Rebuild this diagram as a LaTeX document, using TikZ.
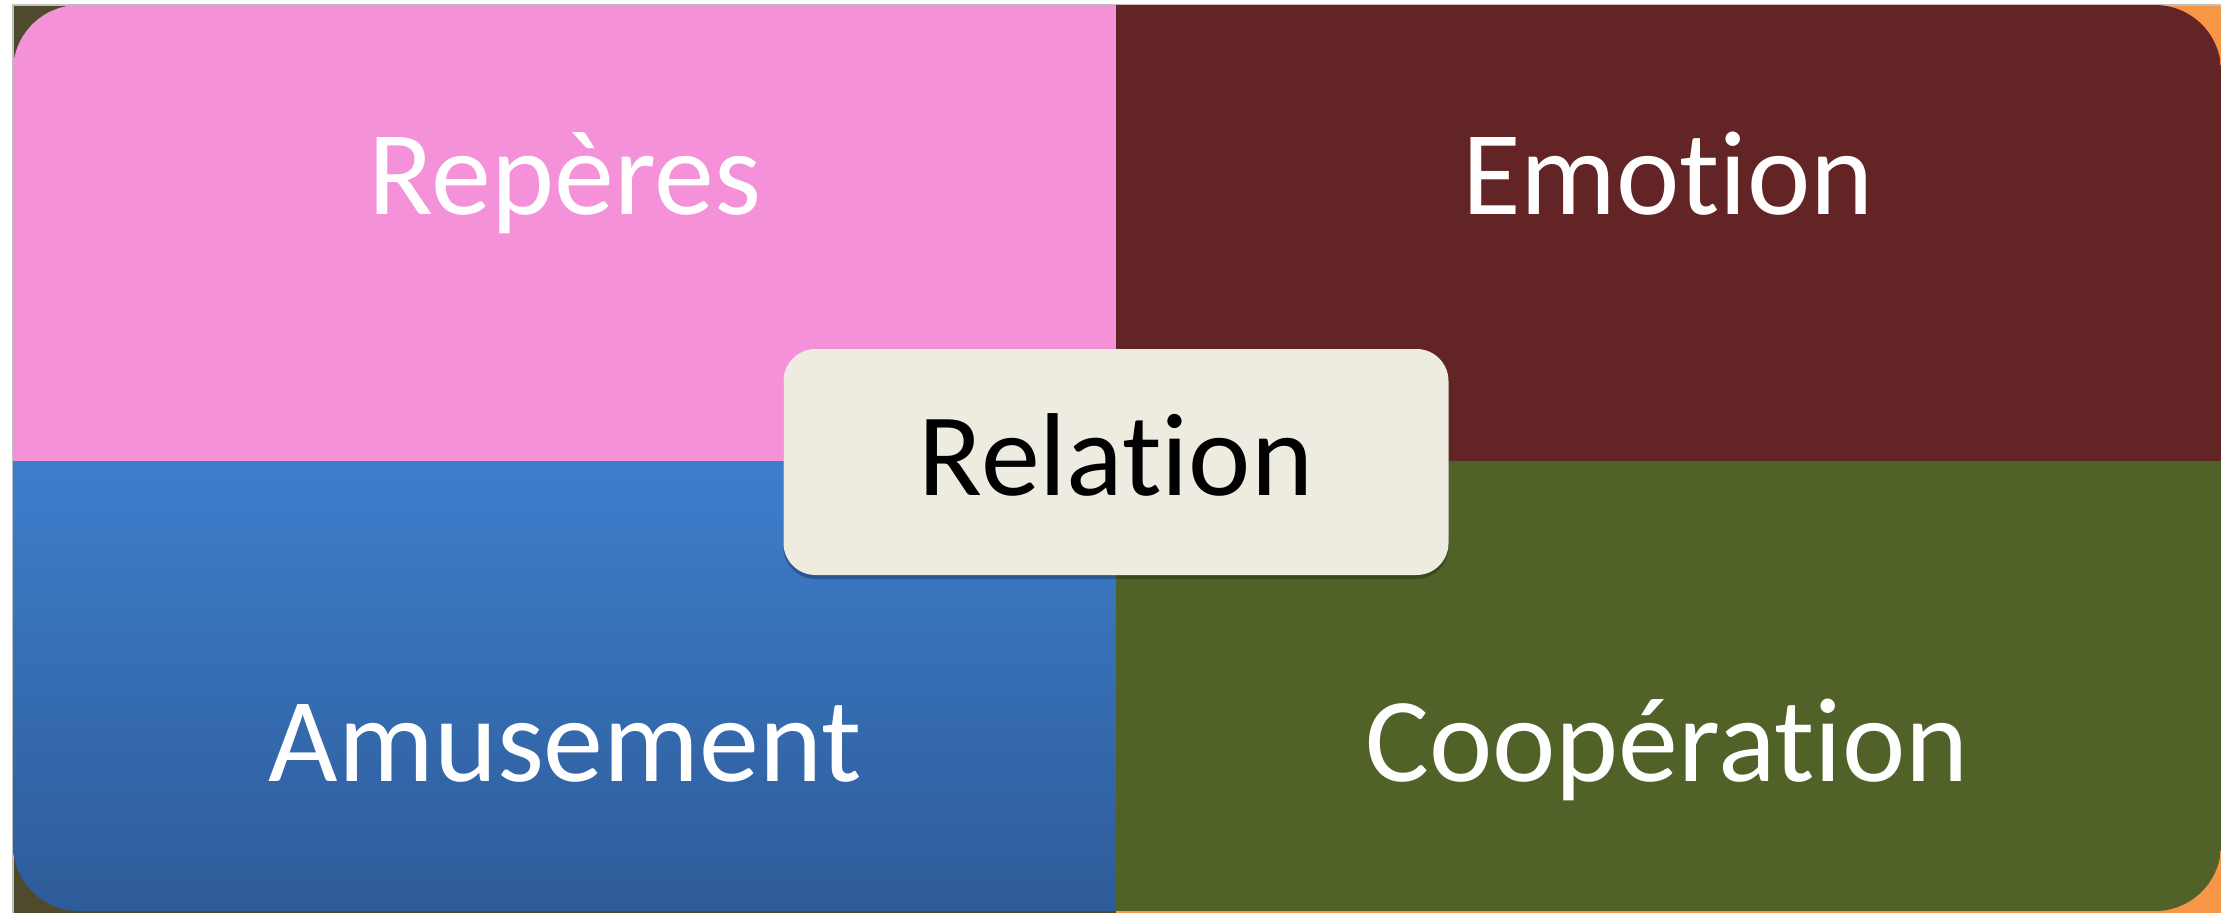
\documentclass[tikz,border=0pt]{standalone}
\usepackage{fontspec}
\setmainfont{Carlito}[Ligatures=NoCommon]
\usetikzlibrary{shadows}
\definecolor{qpink}{HTML}{F591D9}
\definecolor{qred}{HTML}{622424}
\definecolor{qblueT}{HTML}{3D7ECC}
\definecolor{qblueB}{HTML}{2E5B98}
\definecolor{qgreen}{HTML}{506228}
\definecolor{qolive}{HTML}{4E4A2B}
\definecolor{qorange}{HTML}{F79646}
\definecolor{qcream}{HTML}{EEECE1}
\tikzset{
  quadlabel/.style={text=white, anchor=base, font=\fontsize{120}{134}\selectfont, inner sep=0pt},
  centerbox/.style={fill=qcream, rounded corners=32pt, minimum width=665pt, minimum height=226pt, inner sep=0pt,
    drop shadow={shadow xshift=0pt, shadow yshift=-4pt, opacity=0.25, fill=black}},
  centerlabel/.style={text=black, anchor=base, font=\fontsize{118}{132}\selectfont, inner sep=0pt}
}
\begin{document}
\begin{tikzpicture}[x=1pt,y=-1pt]
\useasboundingbox (0,0) rectangle (2236,913);
\fill[white] (0,0) rectangle (2236,913);
% background corners
\fill[qolive] (13,5) rectangle (1116,913);
\fill[qorange] (1116,5) rectangle (2221,913);
\draw[gray!50, line width=1.5pt] (13,913) -- (13,5) -- (2221,5);
% quadrants clipped to rounded frame
\begin{scope}
  \clip[rounded corners=66pt] (13,5) rectangle (2221,911);
  \fill[qpink] (13,5) rectangle (1116,461);
  \fill[qred] (1116,5) rectangle (2221,461);
  \shade[top color=qblueT, bottom color=qblueB] (13,461) rectangle (1116,911);
  \fill[qgreen] (1116,461) rectangle (2221,911);
\end{scope}
\node[quadlabel] (reperes) at (565,214) {Repères};
\node[quadlabel] (emotion) at (1668,214) {Emotion};
\node[quadlabel] (amusement) at (565,781) {Amusement};
\node[quadlabel] (cooperation) at (1667,781) {Coopération};
\node[centerbox] (relbox) at (1116,462) {};
\node[centerlabel] (relation) at (1116,495) {Relation};
\end{tikzpicture}
\end{document}
